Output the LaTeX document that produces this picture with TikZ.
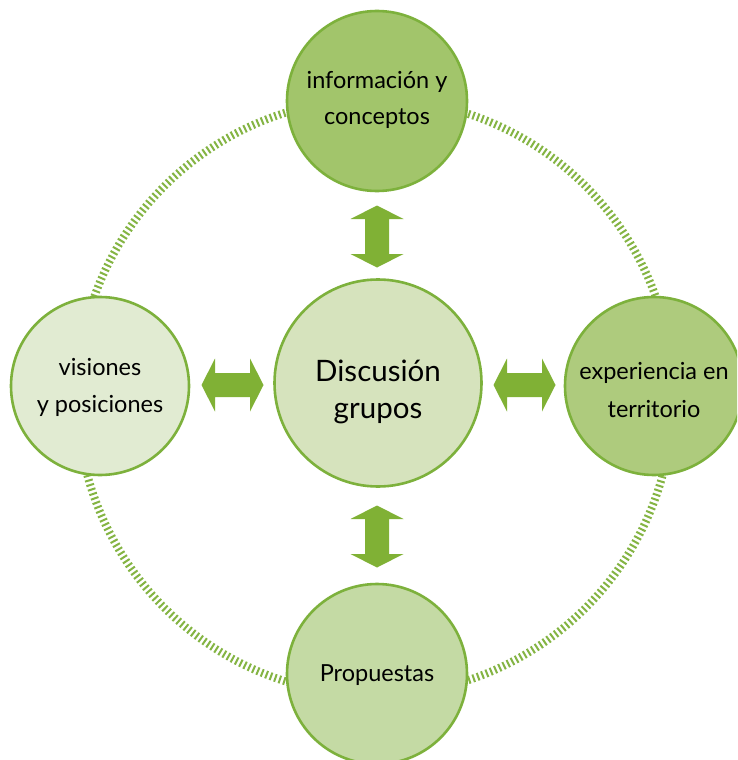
\documentclass[tikz,border=0pt]{standalone}
\usepackage{fontspec}
\setmainfont{Lato}
\definecolor{ringgreen}{HTML}{84B443}
\definecolor{bordergreen}{HTML}{7DB13C}
\definecolor{arrowgreen}{HTML}{80B135}
\definecolor{ctop}{HTML}{A2C56B}
\definecolor{cright}{HTML}{AECB7D}
\definecolor{cbottom}{HTML}{C4DAA4}
\definecolor{ccenter}{HTML}{D6E3BD}
\definecolor{cleft}{HTML}{E1EBD2}
\tikzset{
  bubble/.style={circle, draw=bordergreen, line width=2.6, inner sep=0pt, align=center,
    font=\fontsize{23.5}{37}\selectfont},
  dblarrow/.pic={\fill[arrowgreen] (-31,0) -- (-17.5,26.5) -- (-17.5,12) -- (17.5,12) -- (17.5,26.5) -- (31,0) -- (17.5,-26.5) -- (17.5,-12) -- (-17.5,-12) -- (-17.5,-26.5) -- cycle;}
}
\begin{document}
\begin{tikzpicture}[x=1pt,y=-1pt]
\useasboundingbox (0,0) rectangle (737,760);
\clip (0,0) rectangle (737,760);
\fill[white] (0,0) rectangle (737,760);
\coordinate (ringc) at (375,397);
\draw[ringgreen, line width=8, dash pattern=on 2 off 2.7] (ringc) circle[radius=298];
\node[bubble, fill=ctop, minimum size=180] (top) at (377,101) {};
\node[bubble, fill=cleft, minimum size=178] (left) at (100,386) {};
\node[bubble, fill=cright, minimum size=178] (right) at (654,386) {};
\node[bubble, fill=cbottom, minimum size=180] (bottom) at (377,674) {};
\node[bubble, fill=ccenter, minimum size=207] (center) at (378,383) {};
\node[align=center, font=\fontsize{23.5}{36}\selectfont] (toptext) at ([yshift=1]top.center) {información y\\conceptos};
\node[align=center, font=\fontsize{23.5}{37}\selectfont] (lefttext) at ([yshift=-1]left.center) {visiones\\y posiciones};
\node[align=center, font=\fontsize{23.5}{38.5}\selectfont] (righttext) at ([yshift=-4]right.center) {experiencia en\\territorio};
\node[align=center, font=\fontsize{23.5}{37}\selectfont] (bottomtext) at ([yshift=-1]bottom.center) {Propuestas};
\node[align=center, font=\fontsize{29.5}{37}\selectfont] (centertext) at ([yshift=-9]center.center) {Discusión\\grupos};
\pic at (377,236.5) [rotate=90] {dblarrow};
\pic at (377,536.5) [rotate=90] {dblarrow};
\pic at (232.5,385) {dblarrow};
\pic at (524.5,385) {dblarrow};
\end{tikzpicture}
\end{document}
